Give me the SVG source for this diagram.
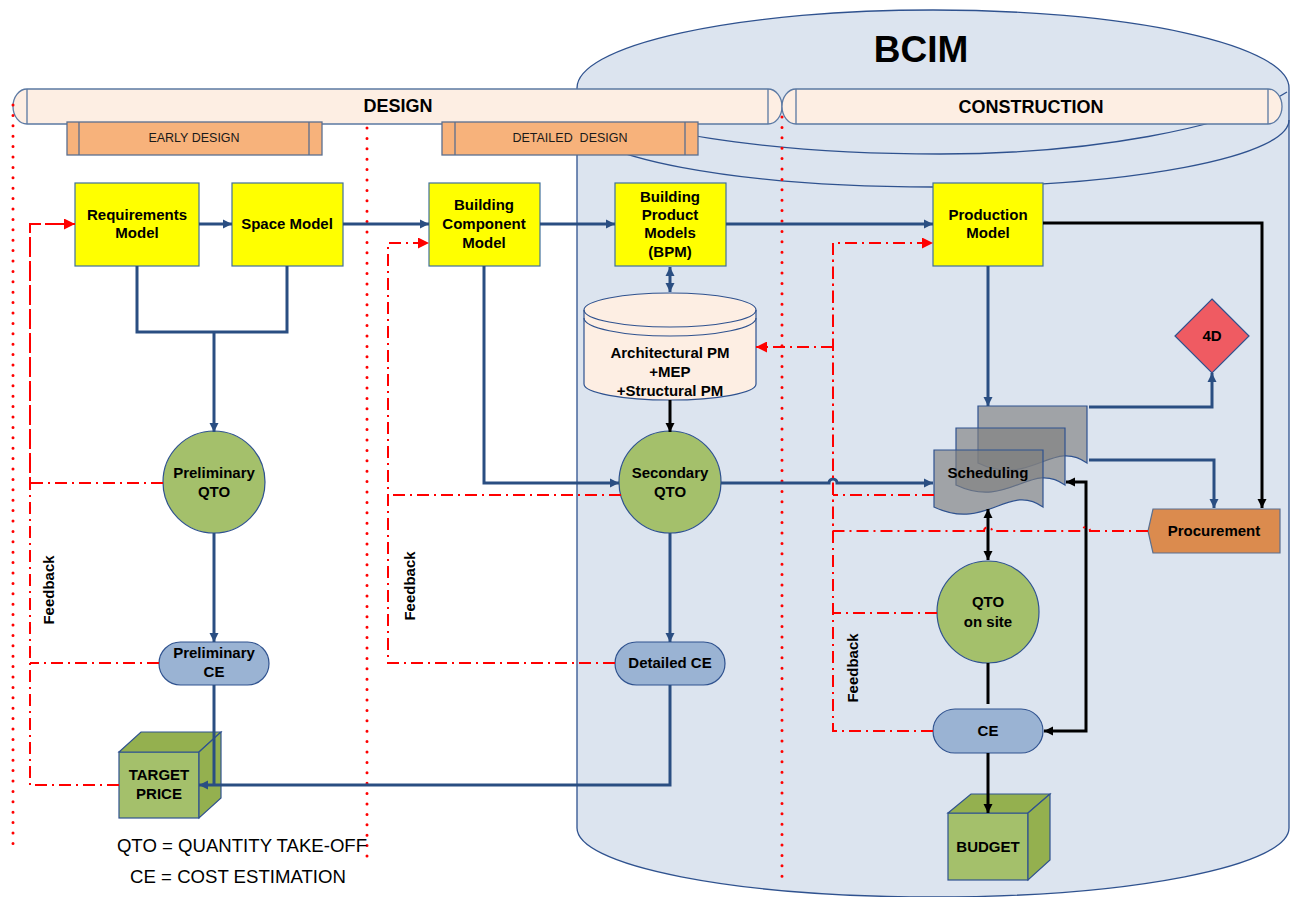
<svg xmlns="http://www.w3.org/2000/svg" width="1293" height="897" viewBox="0 0 1293 897">
<defs>
<style>
.t{font-family:"Liberation Sans",Arial,sans-serif;font-weight:bold;font-size:15px;text-anchor:middle;fill:#000}
.r{font-family:"Liberation Sans",Arial,sans-serif;font-size:12.5px;text-anchor:middle;fill:#1a1a1a}
.lg{font-family:"Liberation Sans",Arial,sans-serif;font-size:18.6px;text-anchor:middle;fill:#000}
.yel{fill:#ffff00;stroke:#41719c;stroke-width:1.2}
.grn{fill:#a4c06b;stroke:#2f528f;stroke-width:1.2}
.ce{fill:#9ab3d3;stroke:#2f528f;stroke-width:1.2}
.cubef{fill:#a4c06b;stroke:#2f528f;stroke-width:1.2}
.cubed{fill:#94b04f;stroke:#2f528f;stroke-width:1.2}
.ban{fill:#fdeee3;stroke:#5b79a3;stroke-width:1.3}
.sub{fill:#f7b27b;stroke:#5b6f8f;stroke-width:1.3}
.doc{fill:#7f7f7f;fill-opacity:0.65;stroke:#2f528f;stroke-width:1.2}
.b{fill:none;stroke:#2a4e82;stroke-width:3}
.k{fill:none;stroke:#000;stroke-width:3}
.rd{fill:none;stroke:#ff0000;stroke-width:2;stroke-dasharray:12 5 2 5}
.dot{fill:none;stroke:#ff0000;stroke-width:3;stroke-linecap:round;stroke-dasharray:0 10.4}
</style>
<marker id="ab" viewBox="0 0 10 10" refX="10" refY="5" markerWidth="9" markerHeight="12" markerUnits="userSpaceOnUse" orient="auto-start-reverse"><path d="M0,0 L10,5 L0,10 z" fill="#2a4e82"/></marker>
<marker id="ak" viewBox="0 0 10 10" refX="10" refY="5" markerWidth="9" markerHeight="12" markerUnits="userSpaceOnUse" orient="auto-start-reverse"><path d="M0,0 L10,5 L0,10 z" fill="#000"/></marker>
<marker id="ar" viewBox="0 0 10 10" refX="10" refY="5" markerWidth="12" markerHeight="11" markerUnits="userSpaceOnUse" orient="auto-start-reverse"><path d="M0,0 L10,5 L0,10 z" fill="#ff0000"/></marker>
</defs>
<rect width="1293" height="897" fill="#ffffff"/>

<g id="bcim">
<path d="M577,88 A356,78 0 0 1 1289,88 V828 A356,69 0 0 1 577,828 Z" fill="#dce4ef" stroke="#2f528f" stroke-width="1.3"/>
<path d="M590,105 C650,138 800,154 940,154 C1090,154 1230,128 1287,92" fill="none" stroke="#2f528f" stroke-width="1.3"/>
<path d="M577,120 A356,67 0 0 0 1289,120" fill="none" stroke="#2f528f" stroke-width="1.3"/>
<text x="921" y="62" class="t" style="font-size:37px">BCIM</text>
</g>

<g id="design">
<path class="ban" d="M27,89 H768 A14,17.5 0 0 1 768,124 H27 A14,17.5 0 0 1 27,89 Z"/>
<path d="M27,89 V124 M768,89 V124" fill="none" stroke="#5b79a3" stroke-width="1.3"/>
<text x="398" y="112" class="t" style="font-size:18px">DESIGN</text>
</g>
<g id="construction">
<path class="ban" d="M796,89 H1268 A14,17.5 0 0 1 1268,124 H796 A14,17.5 0 0 1 796,89 Z"/>
<path d="M796,89 V124 M1268,89 V124" fill="none" stroke="#5b79a3" stroke-width="1.3"/>
<text x="1031" y="113" class="t" style="font-size:18px">CONSTRUCTION</text>
</g>
<g id="early-design">
<rect class="sub" x="67" y="122" width="255" height="33"/>
<path d="M79,122 V155 M309,122 V155" fill="none" stroke="#5b6f8f" stroke-width="1.3"/>
<text x="194" y="142" class="r">EARLY DESIGN</text>
</g>
<g id="detailed-design">
<rect class="sub" x="442" y="122" width="256" height="33"/>
<path d="M455,122 V155 M685,122 V155" fill="none" stroke="#5b6f8f" stroke-width="1.3"/>
<text x="570" y="142" class="r" xml:space="preserve">DETAILED  DESIGN</text>
</g>

<g id="separators">
<path class="dot" d="M13,105 V852"/>
<path class="dot" d="M367,128 V860"/>
<path class="dot" d="M782,117 V883"/>
</g>

<g id="requirements-model">
<rect class="yel" x="75" y="183" width="124" height="83"/>
<text x="137" y="220" class="t">Requirements</text><text x="137" y="238" class="t">Model</text>
</g>
<g id="space-model">
<rect class="yel" x="232" y="183" width="111" height="83"/>
<text x="287" y="229" class="t">Space Model</text>
</g>
<g id="building-component-model">
<rect class="yel" x="429" y="183" width="111" height="83"/>
<text x="484" y="210" class="t">Building</text><text x="484" y="229" class="t">Component</text><text x="484" y="248" class="t">Model</text>
</g>
<g id="bpm">
<rect class="yel" x="615" y="183" width="111" height="83"/>
<text x="670" y="202" class="t">Building</text><text x="670" y="220" class="t">Product</text><text x="670" y="238" class="t">Models</text><text x="670" y="257" class="t">(BPM)</text>
</g>
<g id="production-model">
<rect class="yel" x="933" y="183" width="110" height="83"/>
<text x="988" y="220" class="t">Production</text><text x="988" y="238" class="t">Model</text>
</g>
<g id="product-models-db">
<path d="M584,310 A86,17 0 0 1 756,310 V384 A86,16 0 0 1 584,384 Z" fill="#fdeee3" stroke="#2f528f" stroke-width="1.2"/>
<path d="M584,310 A86,17 0 0 0 756,310 M584,318 A86,18 0 0 0 756,318" fill="none" stroke="#2f528f" stroke-width="1.2"/>
<text x="670" y="358" class="t">Architectural PM</text><text x="670" y="377" class="t">+MEP</text><text x="670" y="396" class="t">+Structural PM</text>
</g>
<g id="preliminary-qto">
<circle class="grn" cx="214" cy="482" r="51"/>
<text x="214" y="478" class="t">Preliminary</text><text x="214" y="497" class="t">QTO</text>
</g>
<g id="secondary-qto">
<circle class="grn" cx="670" cy="482" r="51"/>
<text x="670" y="478" class="t">Secondary</text><text x="670" y="497" class="t">QTO</text>
</g>
<g id="preliminary-ce">
<rect class="ce" x="159" y="642" width="110" height="43" rx="21.5"/>
<text x="214" y="658" class="t">Preliminary</text><text x="214" y="677" class="t">CE</text>
</g>
<g id="detailed-ce">
<rect class="ce" x="615" y="642" width="110" height="43" rx="21.5"/>
<text x="670" y="668" class="t">Detailed CE</text>
</g>
<g id="target-price">
<rect class="cubef" x="119" y="752" width="80" height="66"/>
<path class="cubed" d="M119,752 L141,732 H221 L199,752 Z"/>
<path class="cubed" d="M199,752 L221,732 V798 L199,818 Z"/>
<text x="159" y="780" class="t">TARGET</text><text x="159" y="799" class="t">PRICE</text>
</g>
<g id="scheduling">
<path class="doc" d="M978,406 H1087 V463 C1052.4,438 1030.6,488 978,463 Z"/>
<path class="doc" d="M956,428 H1065 V485 C1030.4,460 1008.6,510 956,485 Z"/>
<path class="doc" d="M934,450 H1043 V507 C1008.4,482 986.6,532 934,507 Z"/>
<text x="988" y="478" class="t">Scheduling</text>
</g>
<g id="four-d">
<path d="M1212,299 L1249,336 L1212,373 L1175,336 Z" fill="#ef5b62" stroke="#2f528f" stroke-width="1.2"/>
<text x="1212" y="341" class="t">4D</text>
</g>
<g id="procurement">
<path d="M1153,509 H1280 V553 H1153 L1148,531 Z" fill="#db8b4e" stroke="#5b6f8f" stroke-width="1.2"/>
<text x="1214" y="536" class="t">Procurement</text>
</g>
<g id="qto-on-site">
<circle class="grn" cx="988" cy="612" r="51"/>
<text x="988" y="607" class="t">QTO</text><text x="988" y="627" class="t">on site</text>
</g>
<g id="ce">
<rect class="ce" x="933" y="709" width="110" height="44" rx="22"/>
<text x="988" y="736" class="t">CE</text>
</g>
<g id="budget">
<rect class="cubef" x="948" y="813" width="80" height="67"/>
<path class="cubed" d="M948,813 L971,794 H1050 L1028,813 Z"/>
<path class="cubed" d="M1028,813 L1050,794 V860 L1028,880 Z"/>
<text x="988" y="852" class="t">BUDGET</text>
</g>

<g id="labels">
<text class="t" transform="translate(54,590) rotate(-90)">Feedback</text>
<text class="t" transform="translate(415,586) rotate(-90)">Feedback</text>
<text class="t" transform="translate(858,668) rotate(-90)">Feedback</text>
<text x="242" y="852" class="lg">QTO = QUANTITY TAKE-OFF</text>
<text x="238" y="883" class="lg">CE = COST ESTIMATION</text>
</g>

<g id="connectors">
<path class="b" d="M199,224 H232" marker-end="url(#ab)"/>
<path class="b" d="M343,224 H429" marker-end="url(#ab)"/>
<path class="b" d="M540,224 H615" marker-end="url(#ab)"/>
<path class="b" d="M726,224 H933" marker-end="url(#ab)"/>
<path class="b" d="M137,266 V332 H287 V266"/>
<path class="b" d="M214,332 V432" marker-end="url(#ab)"/>
<path class="b" d="M214,533 V642" marker-end="url(#ab)"/>
<path class="b" d="M214,685 V785"/>
<path class="b" d="M670,685 V785 H199" marker-end="url(#ab)"/>
<path class="b" d="M484,266 V483 H619" marker-end="url(#ab)"/>
<path class="b" d="M670,267 V292" marker-start="url(#ab)" marker-end="url(#ab)"/>
<path class="k" d="M670,400 V432" marker-end="url(#ak)"/>
<path class="b" d="M670,533 V642" marker-end="url(#ab)"/>
<path class="b" d="M721,483 H829 A4,4 0 0 1 837,483 H933" marker-end="url(#ab)"/>
<path class="b" d="M988,266 V406" marker-end="url(#ab)"/>
<path class="b" d="M1089,407 H1212 V373" marker-end="url(#ab)"/>
<path class="b" d="M1089,460 H1214 V508" marker-end="url(#ab)"/>
<path class="k" d="M1043,223 H1262 V508" marker-end="url(#ak)"/>
<path class="k" d="M988,509 V560" marker-start="url(#ak)" marker-end="url(#ak)"/>
<path class="k" d="M1066,482 H1086 V731 H1044" marker-start="url(#ak)" marker-end="url(#ak)"/>
<path class="k" d="M988,663 V704"/>
<path class="k" d="M988,753 V813" marker-end="url(#ak)"/>

<path class="rd" d="M119,785 H30 V224 H75" marker-end="url(#ar)"/>
<path class="rd" d="M163,483 H30 V224 H75"/>
<path class="rd" d="M159,663 H30"/>
<path class="rd" d="M615,663 H388 V243 H429" marker-end="url(#ar)"/>
<path class="rd" d="M621,495 H388"/>
<path class="rd" d="M933,731 H833 V243 H933" marker-end="url(#ar)"/>
<path class="rd" d="M937,613 H833"/>
<path class="rd" d="M1148,531 H1090 A4,4 0 0 0 1082,531 H992 A4,4 0 0 0 984,531 H833 V243"/>
<path class="rd" d="M934,495 H833"/>
<path class="rd" d="M833,347 H756" marker-end="url(#ar)"/>
</g>
</svg>
